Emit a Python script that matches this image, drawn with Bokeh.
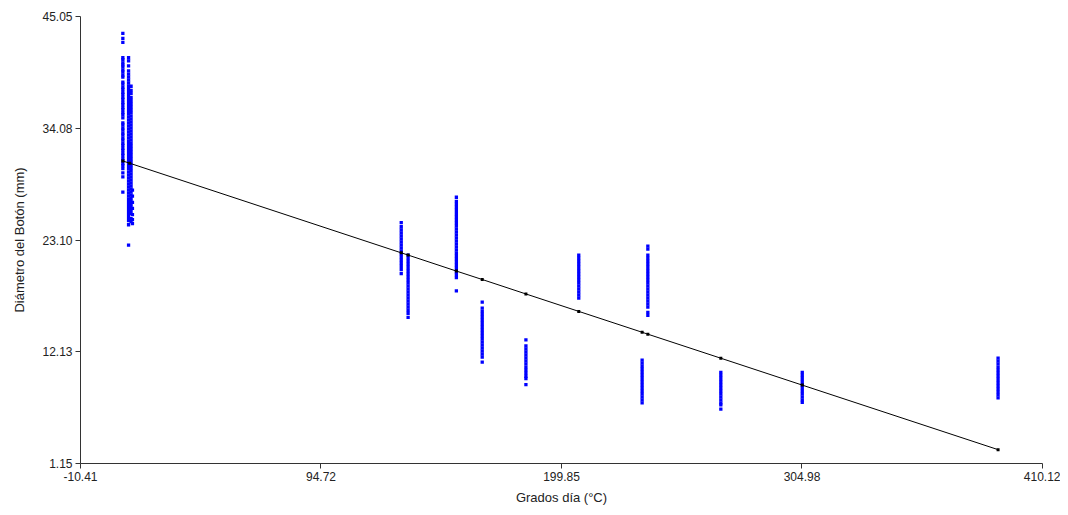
from bokeh.plotting import figure
from bokeh.models import Range1d, FixedTicker, ColumnDataSource
from bokeh.embed import file_html
from bokeh.resources import INLINE

# ---- data ----
x_ticks = [-10.41, 94.72, 199.85, 304.98, 410.12]
x_tick_labels = ["-10.41", "94.72", "199.85", "304.98", "410.12"]
y_ticks = [1.15, 12.13, 23.10, 34.08, 45.05]
y_tick_labels = ["1.15", "12.13", "23.10", "34.08", "45.05"]

cluster_x = [8.1, 10.6, 11.7, 12.3, 129.8, 132.8, 153.9, 165.2, 184.3,
             207.4, 237.6, 235.1, 269.5, 305.1, 390.7]

y_A = [43.4, 42.9, 42.5, 41.0, 40.8, 40.5, 40.3, 40.1, 39.8, 39.6, 39.3, 39.1,
       38.6, 38.4, 38.1, 37.9, 37.6, 37.4, 37.1, 36.9, 36.6, 36.4, 36.1, 35.9,
       35.6, 35.4, 35.1, 34.6, 34.4, 34.1, 33.9, 33.6, 33.4, 33.1, 32.9, 32.6,
       32.4, 32.1, 31.9, 31.6, 31.4, 31.1, 30.9, 30.6, 30.4, 30.1, 29.7, 29.3, 27.8]
y_B1 = [41.0, 40.7, 40.2, 39.7, 39.4, 39.1, 38.8, 38.5, 38.2, 37.9, 37.6, 37.3,
        37.0, 36.7, 36.4, 36.1, 35.8, 35.5, 35.2, 34.9, 34.6, 34.3, 34.0, 33.7,
        33.4, 33.1, 32.8, 32.5, 32.2, 31.9, 31.6, 31.3, 31.0, 30.7, 30.4, 30.1,
        29.8, 29.5, 29.2, 28.9, 28.6, 28.3, 28.0, 27.7, 27.4, 27.1, 26.8, 26.5,
        26.2, 25.9, 25.6, 25.3, 25.0, 24.6, 22.6]
y_B2 = [38.2, 37.8, 37.5, 37.1, 36.8, 36.5, 36.2, 35.9, 35.6, 35.3, 35.0, 34.7,
        34.4, 34.1, 33.8, 33.5, 33.2, 32.9, 32.6, 32.3, 32.0, 31.7, 31.4, 31.1,
        30.8, 30.5, 30.2, 29.9, 29.6, 29.3, 29.0, 28.7, 28.4, 28.1, 27.8, 27.5,
        27.2, 26.9, 26.6, 26.3, 26.0, 25.7, 25.2, 24.9]
y_B3 = [28.0, 27.4, 26.8, 26.2, 25.6, 25.1, 24.7]
y_C1 = [24.8, 24.4, 24.1, 23.8, 23.5, 23.2, 22.9, 22.6, 22.3, 22.0, 21.7, 21.4,
        21.1, 20.8, 20.5, 20.2, 19.8]
y_C2 = [21.6, 21.3, 21.0, 20.7, 20.4, 20.1, 19.8, 19.5, 19.2, 18.9, 18.6, 18.3,
        18.0, 17.7, 17.4, 17.1, 16.8, 16.5, 16.2, 15.9, 15.5]
y_D = [27.3, 26.9, 26.6, 26.3, 26.0, 25.7, 25.4, 25.1, 24.8, 24.5, 24.2, 23.9,
       23.6, 23.3, 23.0, 22.7, 22.4, 22.1, 21.8, 21.5, 21.2, 20.9, 20.6, 20.3,
       20.0, 19.7, 19.4, 18.1]
y_E = [17.0, 16.4, 16.1, 15.8, 15.5, 15.2, 14.9, 14.6, 14.3, 14.0, 13.7, 13.4,
       13.1, 12.8, 12.5, 12.2, 11.9, 11.6, 11.1]
y_F = [13.3, 12.7, 12.4, 12.1, 11.8, 11.5, 11.2, 10.9, 10.6, 10.3, 10.0, 9.7, 9.5, 8.9]
y_G = [21.6, 21.3, 21.0, 20.7, 20.4, 20.1, 19.8, 19.5, 19.2, 18.9, 18.6, 18.3,
       18.0, 17.7, 17.4]
y_H_up = [22.5, 22.2, 21.6, 21.3, 21.0, 20.7, 20.4, 20.1, 19.8, 19.5, 19.2, 18.9,
          18.6, 18.3, 18.0, 17.7, 17.4, 17.1, 16.8, 16.5, 16.0, 15.7]
y_H_low = [11.3, 11.0, 10.7, 10.4, 10.1, 9.8, 9.5, 9.2, 8.9, 8.6, 8.3, 8.0, 7.7, 7.4, 7.1]
y_I = [10.1, 9.8, 9.5, 9.2, 8.9, 8.6, 8.3, 8.0, 7.7, 7.4, 7.1, 6.9, 6.5]
y_J = [10.1, 9.8, 9.5, 9.2, 8.9, 8.6, 8.3, 8.0, 7.7, 7.4, 7.15]
y_K = [11.5, 11.2, 10.9, 10.6, 10.3, 10.0, 9.7, 9.4, 9.1, 8.8, 8.5, 8.2, 7.9, 7.6]

cluster_y = [y_A, y_B1, y_B2, y_B3, y_C1, y_C2, y_D, y_E, y_F, y_G,
             y_H_up, y_H_low, y_I, y_J, y_K]

fit_x = [8.1, 11.1, 129.8, 132.8, 153.9, 165.2, 184.3, 207.4, 235.1, 237.6,
         269.5, 305.1, 390.7]
fit_y = [30.86, 30.64, 21.84, 21.62, 20.05, 19.22, 17.80, 16.09, 14.04, 13.85,
         11.49, 8.85, 2.51]

# ---- build point table ----
px, py = [], []
for cx, ys in zip(cluster_x, cluster_y):
    for v in ys:
        px.append(cx)
        py.append(v)
pts = ColumnDataSource(dict(x=px, y=py))
fit = ColumnDataSource(dict(x=fit_x, y=fit_y))

FONT = "Liberation Sans"

p = figure(width=1060, height=507, output_backend="svg", toolbar_location=None,
           x_range=Range1d(x_ticks[0], x_ticks[-1]),
           y_range=Range1d(y_ticks[0], y_ticks[-1]),
           min_border_left=80, min_border_right=18,
           min_border_top=16, min_border_bottom=43)
p.outline_line_color = None
p.grid.visible = False
p.background_fill_color = "white"
p.border_fill_color = "white"

p.scatter("x", "y", source=pts, marker="square", size=3.3,
          fill_color="#0000FF", line_color=None)
p.line("x", "y", source=fit, line_color="black", line_width=1)
p.scatter("x", "y", source=fit, marker="square", size=3,
          fill_color="black", line_color=None)

for ax, ticks, labels in ((p.xaxis[0], x_ticks, x_tick_labels),
                          (p.yaxis[0], y_ticks, y_tick_labels)):
    ax.ticker = FixedTicker(ticks=ticks)
    ax.major_label_overrides = {t: l for t, l in zip(ticks, labels)}
    ax.minor_tick_line_color = None
    ax.major_tick_in = 0
    ax.major_tick_out = 5
    ax.major_label_standoff = 3
    ax.axis_line_color = "#333333"
    ax.major_tick_line_color = "#333333"
    ax.major_label_text_font = FONT
    ax.major_label_text_font_size = "12px"
    ax.major_label_text_color = "#222222"
    ax.axis_label_text_font = FONT
    ax.axis_label_text_font_size = "13px"
    ax.axis_label_text_font_style = "normal"
    ax.axis_label_text_color = "#222222"

p.xaxis.axis_label = "Grados día (°C)"
p.yaxis.axis_label = "Diámetro del Botón (mm)"
p.xaxis.axis_label_standoff = 6
p.yaxis.axis_label_standoff = 12

open("out.html", "w").write(file_html(p, INLINE))
